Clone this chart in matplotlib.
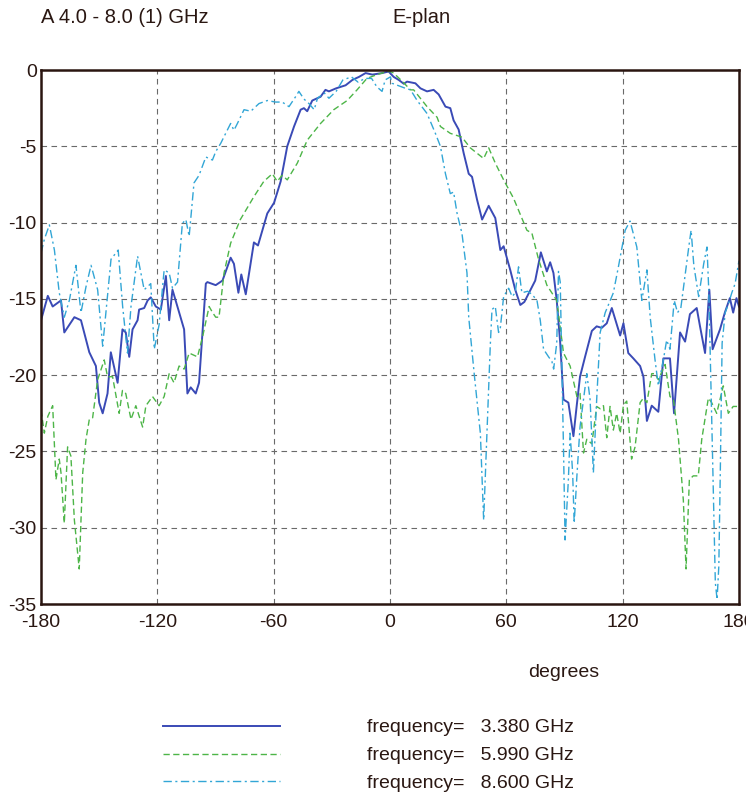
import matplotlib
matplotlib.use('Agg')
import matplotlib.pyplot as plt

# E-plane pattern, three frequencies (dB vs degrees)
ang_b = [-180, -176.5, -174, -169.7, -168, -162.8, -159.4, -155.1, -151.7, -150, -148.2, -145.7,
         -144, -140.5, -138, -136.3, -134.5, -132.8, -130.2, -129.4, -126.8, -125, -123.4, -120.8,
         -118.2, -115.6, -113.9, -112.2, -106.2, -104.5, -102.8, -100.2, -98.5, -95, -94.2, -89.9,
         -86.4, -82.2, -80.5, -78.2, -76.7, -74.4, -70.2, -68.1, -63.3, -59.8, -56.4, -53, -49.5,
         -46.1, -44.4, -42.7, -40.1, -35.8, -33.3, -31.5, -27.8, -22.9, -19.4, -16, -12.6, -9.1,
         -4.1, -0.7, 1.9, 4.5, 7.1, 8.8, 13.1, 15.7, 19.1, 22.5, 25.1, 28.6, 31.1, 32.8, 35.4, 38,
         40.6, 42.3, 44.9, 47.5, 50.9, 54.3, 56.9, 58.6, 62, 64.6, 67.2, 69.3, 74.9, 77.8, 80.9,
         82.6, 84.3, 86, 87.8, 89.5, 92, 94.6, 96.3, 98, 100.6, 104.1, 106.6, 109.2, 111.8, 114.4,
         118.7, 120.4, 122.9, 125.5, 129, 130.7, 132.5, 135, 138.4, 141, 144.4, 146.5, 149.6,
         152.2, 154.7, 158.2, 159.9, 162.5, 164.7, 166.4, 170.2, 172.7, 175.3, 177, 178.7, 180]
db_b = [-16.4, -14.8, -15.5, -15.1, -17.2, -16.2, -16.4, -18.5, -19.4, -21.8, -22.5, -21.2,
        -18.5, -20.5, -17.0, -17.2, -18.8, -17.0, -16.4, -15.7, -15.6, -15.1, -14.9, -15.5,
        -15.7, -13.5, -16.4, -14.4, -17.0, -21.2, -20.8, -21.2, -20.5, -14.0, -13.9, -14.1,
        -13.8, -12.3, -12.7, -14.6, -13.4, -14.7, -11.3, -11.5, -9.4, -8.7, -7.3, -5.0, -3.7,
        -2.6, -2.5, -2.7, -2.0, -1.75, -1.3, -1.4, -1.2, -1.0, -0.65, -0.45, -0.2, -0.3,
        -0.2, -0.1, -0.45, -0.65, -0.9, -0.76, -0.87, -1.2, -1.4, -1.3, -1.6, -2.4, -2.5, -3.3,
        -3.9, -5.45, -6.8, -7.0, -8.5, -9.8, -8.9, -9.7, -11.8, -11.55, -13.1, -14.4, -15.4,
        -15.2, -13.8, -11.95, -13.2, -12.6, -13.3, -15.1, -17.9, -21.6, -21.8, -24.0, -22.0,
        -20.1, -18.8, -17.1, -16.8, -16.9, -16.6, -15.6, -17.4, -16.6, -18.55, -18.9, -19.4,
        -20.1, -23.0, -22.0, -22.4, -18.9, -18.9, -22.5, -17.2, -17.8, -16.0, -15.6, -16.8,
        -18.55, -14.4, -18.3, -17.0, -15.9, -14.95, -15.9, -14.95, -15.5]

ang_g = [-180, -178.3, -176.5, -174, -172.3, -170.6, -169.7, -168, -166.3, -164.6, -162.8, -160.3,
         -158.5, -156.8, -155.1, -153.4, -150.8, -147.4, -145.7, -143.1, -139.7, -138, -136.3,
         -133.6, -131.1, -127.6, -125.9, -122.5, -119.1, -116.5, -113.9, -111.4, -108.8, -106.2,
         -103.6, -99.3, -96.7, -93.3, -91.5, -89.9, -88.2, -85.6, -82.2, -77.2, -70.2, -65.1,
         -60.7, -58.2, -55.6, -53, -47.8, -42.7, -35.8, -29, -22.1, -17, -11.9, -6.7, -1.6, 0.2,
         1.9, 6, 10.6, 12.2, 19.1, 24.3, 26, 31.1, 37.1, 41.4, 48.3, 50.9, 54.3, 58.6, 63.7, 70.6,
         73.2, 76.6, 80.9, 86, 89.5, 92.9, 96.4, 98, 99.8, 101.5, 104.1, 106.6, 108.4, 110.1,
         111.8, 113.5, 115.2, 116.9, 118.7, 120.4, 122.1, 124.6, 126.4, 129, 130.7, 132.5, 135,
         136.7, 138.4, 141.9, 144.4, 146.2, 148.8, 151.3, 152.7, 154.4, 156.4, 159, 160.8, 164.2,
         165.9, 168.5, 171.9, 174.5, 177, 180]
db_g = [-22.3, -23.8, -22.7, -22.0, -26.85, -25.5, -26.4, -29.7, -24.7, -25.3, -29.5, -32.7,
        -26.4, -24.2, -22.9, -22.8, -20.3, -19.0, -20.1, -20.1, -22.5, -21.0, -21.2,
        -22.9, -22.0, -23.4, -22.0, -21.4, -22.0, -21.4, -19.9, -20.5, -19.4, -19.6,
        -18.55, -18.8, -17.5, -15.5, -15.9, -16.2, -16.2, -13.3, -11.35, -9.8, -8.3, -7.3,
        -6.8, -7.3, -6.9, -7.2, -6.1, -4.6, -3.5, -2.6, -2.0, -1.3, -0.55, -0.3, -0.1, -0.1,
        -0.2, -0.7, -1.3, -1.3, -2.4, -3.1, -3.7, -4.15, -4.4, -5.1, -5.8, -5.1, -6.1, -7.2, -8.4,
        -10.5, -10.7, -12.4, -14.1, -15.1, -18.55, -19.4, -21.4, -21.2, -25.1, -24.2, -24.5,
        -22.05, -22.2, -22.0, -24.1, -22.05, -23.6, -22.5, -23.8, -21.95, -21.7, -25.5, -24.7,
        -21.8, -21.5, -21.8, -19.9, -19.9, -20.3, -19.3, -21.4, -21.6, -24.2, -28.2, -32.7,
        -26.85, -26.6, -26.6, -24.2, -21.5, -21.8, -22.5, -20.7, -22.5, -22.05, -22.05]

ang_c = [-180, -178.3, -175.7, -173.1, -170.6, -168, -165.4, -162, -159.4, -156.8, -154.2, -150.8,
         -148.2, -143.9, -140.2, -137.9, -135.4, -133.6, -130.2, -126.8, -123.4, -121.6, -119.1,
         -116.5, -113.9, -112.2, -109.6, -107.1, -105.3, -103.6, -101.1, -98.5, -95, -91.6, -89.9,
         -87.3, -82.2, -80.5, -78.7, -75.3, -71.8, -67.6, -63.3, -59, -55.6, -52.1, -48.7, -47,
         -44.4, -41.8, -39.1, -37.4, -33.9, -31.5, -27.8, -24.3, -19.9, -16.4, -13, -9.5, -6.8,
         -4.1, -2.5, 0.2, 1.1, 8, 10.6, 14, 19.1, 23.4, 26, 28.6, 31.1, 32.8, 34.6, 37.1, 39.7,
         40.6, 43.5, 46.6, 48.3, 50, 51.7, 52.6, 54.3, 56, 56.9, 58.6, 61.2, 63, 64.6, 66.3, 68,
         71, 73.2, 75.8, 77.5, 79.2, 81.8, 83.5, 84.4, 86, 86.9, 87.8, 88.6, 89.5, 90.3, 92, 92.9,
         94.2, 95, 96.4, 98, 99.8, 101.5, 103.2, 104.9, 106.6, 108.4, 111, 115.2, 117.8, 121.3,
         123.8, 127.3, 129.9, 132.5, 134.2, 136.7, 138.4, 141, 142.7, 144.4, 146.6, 148.3, 150,
         154.1, 155.3, 156.7, 159.2, 161.8, 163.5, 164.4, 166.1, 167.8, 168.7, 169.6, 170.4,
         171.3, 172.9, 174.6, 176.3, 178, 180]
db_c = [-12.0, -11.1, -10.15, -11.8, -14.6, -16.2, -15.1, -12.8, -15.9, -14.2, -12.8, -14.4,
        -18.1, -12.4, -11.8, -15.5, -18.55, -15.5, -12.2, -14.4, -14.0, -18.3, -16.7,
        -13.1, -13.3, -14.3, -13.9, -10.05, -9.8, -10.9, -7.4, -6.9, -5.7, -5.9, -5.35,
        -4.8, -3.5, -3.95, -3.5, -2.6, -2.7, -2.2, -2.0, -2.1, -2.1, -2.4, -1.75, -1.4,
        -1.9, -2.2, -2.6, -1.85, -1.5, -1.85, -1.4, -0.65, -0.45, -0.8, -0.55, -0.55, -1.1,
        -1.4, -0.65, -0.45, -0.87, -1.2, -1.3, -2.0, -2.85, -4.15, -5.0, -6.8, -8.1, -8.0, -9.4,
        -10.7, -13.3, -16.2, -20.0, -23.8, -29.5, -23.8, -18.1, -15.7, -15.5, -17.2, -16.9,
        -14.85, -14.3, -14.85, -14.6, -12.9, -14.6, -14.5, -14.7, -15.1, -16.4, -18.3, -18.8,
        -19.1, -19.6, -17.9, -13.2, -13.9, -19.1, -24.9, -30.8, -26.85, -23.8, -26.4, -29.7,
        -26.6, -23.4, -21.6, -19.9, -21.6, -26.4, -21.6, -17.2, -15.9, -14.6, -12.9, -10.5,
        -9.9, -11.6, -15.1, -13.1, -16.2, -19.0, -20.7, -19.0, -17.7, -18.3, -15.1, -15.9,
        -15.6, -11.6, -10.5, -12.8, -14.85, -12.7, -11.6, -14.4, -23.8, -33.6, -34.7, -32.5,
        -26.0, -17.9, -15.9, -15.3, -14.6, -14.0, -12.5]

labels = ['frequency=   3.380 GHz', 'frequency=   5.990 GHz', 'frequency=   8.600 GHz']
x_ticks = [-180, -120, -60, 0, 60, 120, 180]
y_ticks = [0, -5, -10, -15, -20, -25, -30, -35]

plt.rcParams['font.family'] = ['Liberation Sans', 'DejaVu Sans']
plt.rcParams['axes.unicode_minus'] = False  # plain hyphen like the scan
txt = '#2a1712'

fig = plt.figure(figsize=(7.46, 7.93), dpi=100)
ax = fig.add_axes([0.055, 0.2383, 0.9356, 0.6734])

l1, = ax.plot(ang_b, db_b, color='#3a4ab6', lw=1.4, ls='-')
l2, = ax.plot(ang_g, db_g, color='#4db548', lw=1.0, ls=(0, (4.5, 2.5)))
l3, = ax.plot(ang_c, db_c, color='#32a6d6', lw=1.0, ls=(0, (6, 2.5, 1.5, 2.5)))

ax.set_xlim(-180, 180)
ax.set_ylim(-35, 0)
ax.set_xticks(x_ticks)
ax.set_yticks(y_ticks)
ax.tick_params(length=0, labelsize=14, colors=txt)
ax.tick_params(axis='x', pad=7)
ax.tick_params(axis='y', pad=3)
ax.grid(True, color='#6a6a6a', lw=0.8, ls=(0, (5, 4)))
for s in ax.spines.values():
    s.set_color('#2a1510')
    s.set_linewidth(1.8)

fig.text(0.055, 0.978, 'A 4.0 - 8.0 (1) GHz', fontsize=14.5, color=txt, va='center')
fig.text(0.565, 0.978, 'E-plan', fontsize=14.5, color=txt, va='center', ha='center')
fig.text(0.756, 0.152, 'degrees', fontsize=14, color=txt, va='center', ha='center')

fig.legend([l1, l2, l3], labels, loc='upper left', bbox_to_anchor=(0.208, 0.1034), frameon=False,
           fontsize=14, handlelength=6.0, handletextpad=4.5, labelspacing=0.53,
           labelcolor=txt, borderaxespad=0)

fig.savefig('out.png', dpi=100)
